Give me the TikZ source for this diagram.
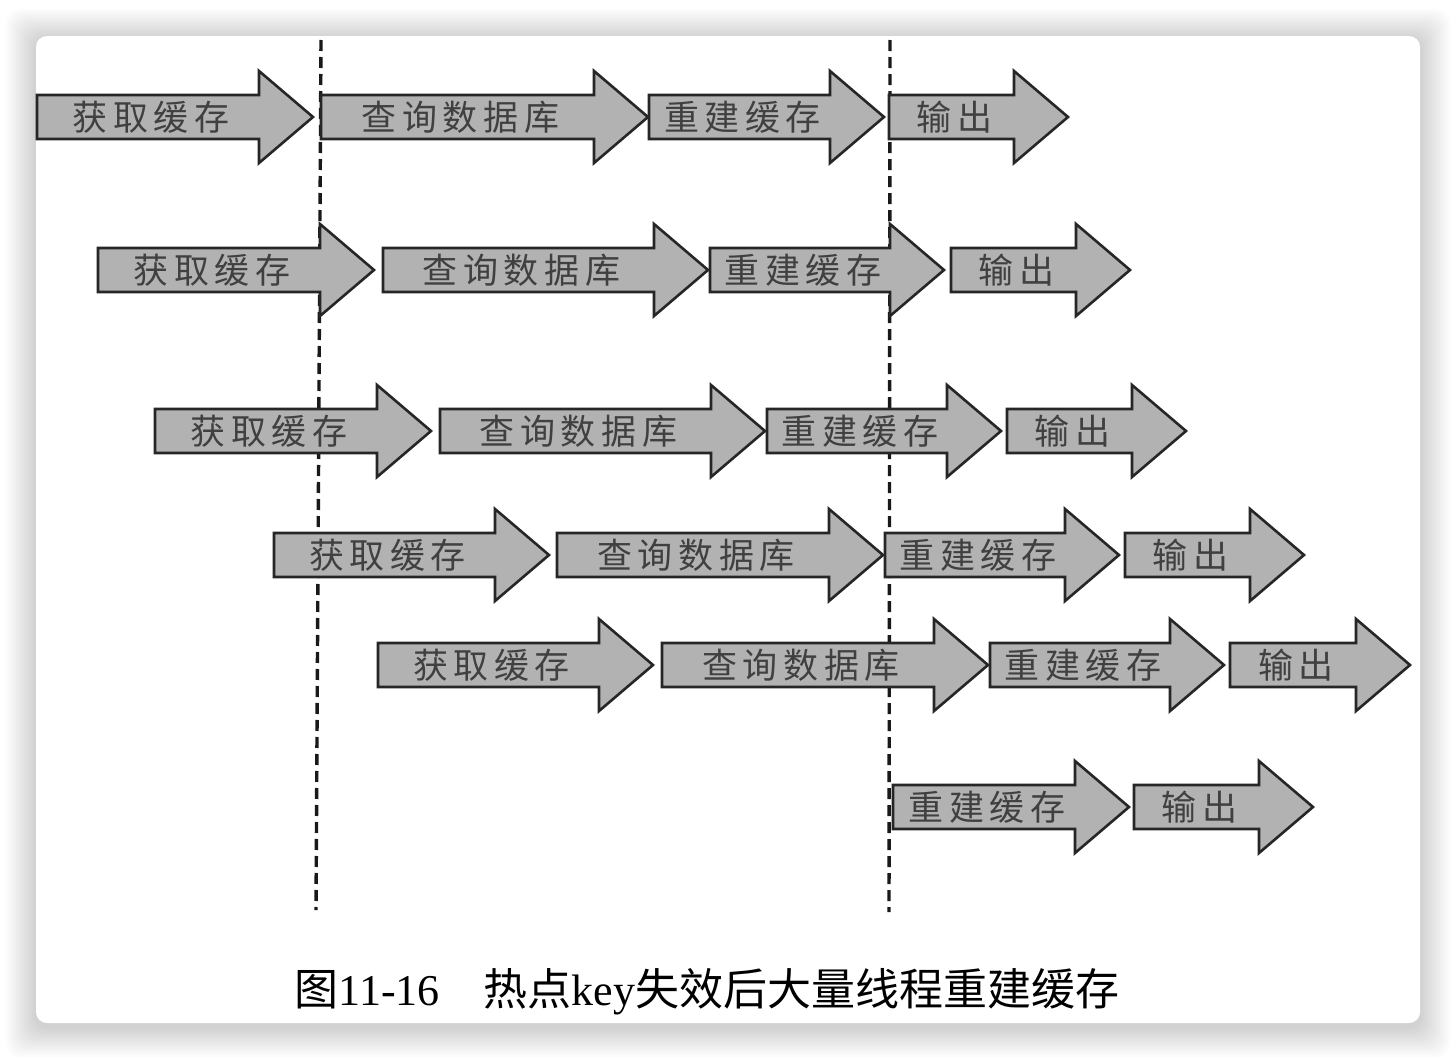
\documentclass[tikz,border=0pt]{standalone}
\usepackage{fontspec}
\setmainfont{Liberation Serif}
\newfontfamily\cjk[LetterSpace=16]{Noto Sans CJK SC}
\newfontfamily\cjkcap{Noto Sans CJK SC}
\usetikzlibrary{calc}

% one block arrow: name, left x, tip x, centre y, label
\newcommand{\flow}[5]{%
  \draw[arr] (#2,#4-22) -- (#3-54,#4-22) -- (#3-54,#4-46) -- (#3,#4)
    -- (#3-54,#4+46) -- (#3-54,#4+22) -- (#2,#4+22) -- cycle;
  \node[lbl] (#1) at ({(#2+#3-54)/2+3},#4) {#5};}

\begin{document}
\begin{tikzpicture}[x=1pt,y=-1pt,
  arr/.style={draw=black!85,line width=2.6pt,line join=miter,fill=black!30},
  lbl/.style={font=\cjk\fontsize{35}{35}\selectfont,text=black!75,inner sep=0pt},
  sep/.style={line width=3.4pt,black!90,dash pattern=on 11pt off 6pt},
  card/.style={fill=white,rounded corners=11pt}]
  \useasboundingbox (0,0) rectangle (1456,1060);
  % soft shadow round the card
  \foreach \s in {2,4,...,30}
    \fill[black,opacity=0.011,rounded corners=14pt] (36-\s,36-\s+3) rectangle (1420+\s,1023+\s+4);
  \fill[card] (36,36) rectangle (1420,1023);

  % time marks
  \draw[sep] (321,40) -- (316,910);
  \draw[sep] (890,40) -- (889,912);

  % threads
  \flow{get1}{37}{313}{117}{获取缓存}
  \flow{query1}{321}{648}{117}{查询数据库}
  \flow{build1}{649}{884}{117}{重建缓存}
  \flow{out1}{889}{1068}{117}{输出}

  \flow{get2}{98}{374}{270}{获取缓存}
  \flow{query2}{383}{708}{270}{查询数据库}
  \flow{build2}{710}{944}{270}{重建缓存}
  \flow{out2}{951}{1130}{270}{输出}

  \flow{get3}{155}{431}{431}{获取缓存}
  \flow{query3}{440}{765}{431}{查询数据库}
  \flow{build3}{767}{1001}{431}{重建缓存}
  \flow{out3}{1007}{1186}{431}{输出}

  \flow{get4}{274}{549}{555}{获取缓存}
  \flow{query4}{557}{883}{555}{查询数据库}
  \flow{build4}{885}{1119}{555}{重建缓存}
  \flow{out4}{1125}{1304}{555}{输出}

  \flow{get5}{378}{653}{665}{获取缓存}
  \flow{query5}{662}{988}{665}{查询数据库}
  \flow{build5}{990}{1224}{665}{重建缓存}
  \flow{out5}{1230}{1410}{665}{输出}

  \flow{build6}{893}{1129}{807}{重建缓存}
  \flow{out6}{1134}{1313}{807}{输出}

  \node[font=\fontsize{44}{44}\selectfont,inner sep=0pt] (cap) at (707,992)
    {{\cjkcap 图}11-16\hspace{1em}{\cjkcap 热点}key{\cjkcap 失效后大量线程重建缓存}};
\end{tikzpicture}
\end{document}
